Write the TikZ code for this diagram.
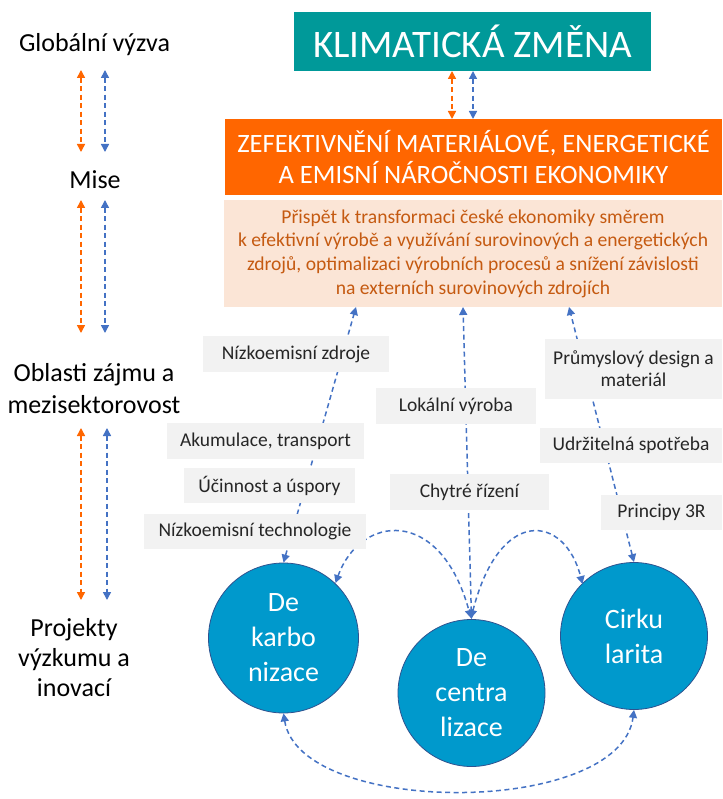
\documentclass[tikz,border=0pt]{standalone}
\usepackage{fontspec}
\setmainfont{Carlito}
\usetikzlibrary{arrows.meta,calc}
\definecolor{teal1}{RGB}{0,153,153}
\definecolor{orng}{RGB}{255,102,0}
\definecolor{peach}{RGB}{251,229,214}
\definecolor{peachtxt}{RGB}{197,90,17}
\definecolor{gbox}{RGB}{242,242,242}
\definecolor{circ}{RGB}{0,153,204}
\definecolor{circb}{RGB}{47,82,143}
\definecolor{blarrow}{RGB}{68,114,196}
\begin{document}
\begin{tikzpicture}[x=1pt,y=-1pt,
 darr/.style={dash pattern=on 5pt off 3.5pt, line width=1.5pt, {Triangle[length=8pt,width=8pt]}-{Triangle[length=8pt,width=8pt]}},
 oarr/.style={darr, draw=orng},
 barr/.style={darr, draw=blarrow},
 lbl/.style={font=\fontsize{26}{32}\selectfont, align=center, inner sep=0, text=black},
 gbx/.style={fill=gbox, font=\fontsize{19.5}{22}\selectfont, align=center, inner sep=0, text=black!85},
 circn/.style={circle, fill=circ, draw=circb, line width=0.8pt, minimum size=147pt, inner sep=0, text=white, align=center, font=\fontsize{28}{35}\selectfont}
]
\useasboundingbox[fill=white] (0,0) rectangle (722,799);

% top boxes
\node[fill=teal1, minimum width=357pt, minimum height=59pt, inner sep=0, text=white, font=\fontsize{39}{42}\selectfont] (klim) at (472.5,41.5) {KLIMATICKÁ ZMĚNA};
\node[fill=orng, minimum width=497pt, minimum height=76pt, inner sep=0, text=white, align=center, font=\fontsize{26.5}{31}\selectfont] (zef) at (473.5,157) {ZEFEKTIVNĚNÍ MATERIÁLOVÉ, ENERGETICKÉ\\A EMISNÍ NÁROČNOSTI EKONOMIKY};
\node[fill=peach, minimum width=498pt, minimum height=107pt, inner sep=0, text=peachtxt, align=center, font=\fontsize{19.6}{23.7}\selectfont] (cil) at (473,253.5) {Přispět k transformaci české ekonomiky směrem\\k efektivní výrobě a využívání surovinových a energetických\\zdrojů, optimalizaci výrobních procesů a snížení závislosti\\na externích surovinových zdrojích};

% circles
\node[circn, minimum height=150pt] (dek) at (283.5,638) {De\\karbo\\nizace};
\node[circn] (dec) at (471.5,693) {De\\centra\\lizace};
\node[circn] (cir) at (634,636) {Cirku\\larita};

% coordinates
\coordinate (k1) at (452,71);
\coordinate (k2) at (452,119);
\coordinate (k3) at (473,71);
\coordinate (k4) at (473,119);
\coordinate (pL) at (356,307);
\coordinate (pC) at (463,307);
\coordinate (pR) at (569,307);
\coordinate (dekA) at (335.5,583);
\coordinate (decA) at (471,618);
\coordinate (cirA) at (582.5,584);

\draw[oarr] (k1) -- (k2);
\draw[barr] (k3) -- (k4);
\draw[barr] (dek.north) -- (pL);
\draw[barr] (dec.north) -- (pC);
\draw[barr] (cir.north) -- (pR);
\draw[barr] (dekA) .. controls (360,515) and (440,505) .. (decA);
\draw[barr] (decA) .. controls (500,505) and (565,515) .. (cirA);
\draw[barr] (dek.south) .. controls (300,817) and (620,817) .. (cir.south);

% gray labels
\node[gbx, minimum width=186pt, minimum height=36pt] (nzd) at (296,354) {Nízkoemisní zdroje};
\node[gbx, minimum width=160pt, minimum height=36pt] (lok) at (456,406) {Lokální výroba};
\node[gbx, minimum width=177pt, minimum height=60pt] (prum) at (633.5,369) {Průmyslový design a\\materiál};
\node[gbx, minimum width=197pt, minimum height=36pt] (aku) at (265.5,441) {Akumulace, transport};
\node[gbx, minimum width=182pt, minimum height=35pt] (udr) at (631,445.5) {Udržitelná spotřeba};
\node[gbx, minimum width=171pt, minimum height=35pt] (uci) at (269.5,485.5) {Účinnost a úspory};
\node[gbx, minimum width=159pt, minimum height=36pt] (chy) at (469.5,492) {Chytré řízení};
\node[gbx, minimum width=222pt, minimum height=35pt] (nzt) at (255,531.5) {Nízkoemisní technologie};
\node[gbx, minimum width=121pt, minimum height=35pt] (pri) at (661.5,512.5) {Principy 3R};

% left labels
\node[lbl] (glob) at (94.5,45) {Globální výzva};
\node[lbl] (mise) at (95,180) {Mise};
\node[lbl] (obl) at (94,389) {Oblasti zájmu a\\mezisektorovost};
\node[lbl, font=\fontsize{26}{30}\selectfont] (proj) at (74,658) {Projekty\\výzkumu a\\inovací};

\coordinate (o1a) at (81,70);  \coordinate (o1b) at (81,152);
\coordinate (b1a) at (105,70); \coordinate (b1b) at (105,152);
\coordinate (o2a) at (81,200); \coordinate (o2b) at (81,333);
\coordinate (b2a) at (105,200); \coordinate (b2b) at (105,333);
\coordinate (o3a) at (81,428); \coordinate (o3b) at (81,600);
\coordinate (b3a) at (107,428); \coordinate (b3b) at (107,600);
\draw[oarr] (o1a) -- (o1b);
\draw[barr] (b1a) -- (b1b);
\draw[oarr] (o2a) -- (o2b);
\draw[barr] (b2a) -- (b2b);
\draw[oarr] (o3a) -- (o3b);
\draw[barr] (b3a) -- (b3b);
\end{tikzpicture}
\end{document}
